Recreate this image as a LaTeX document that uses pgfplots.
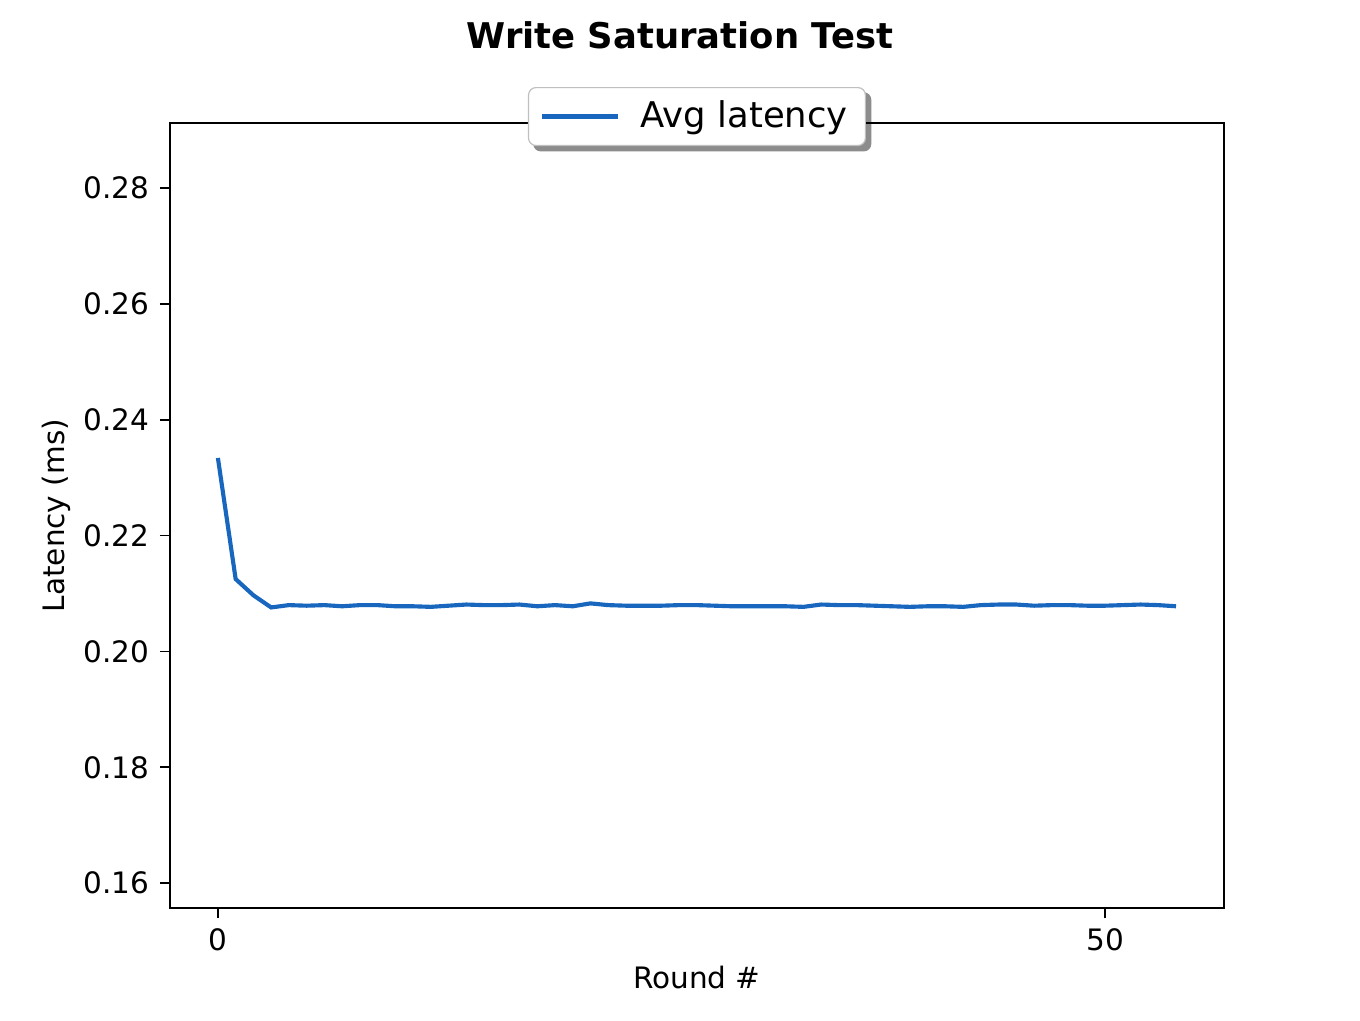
\documentclass[border=0pt]{standalone}
\usepackage{pgfplots}
\pgfplotsset{compat=1.18}
\usepackage{fontspec}
\setmainfont{DejaVu Sans}
\pgfdeclarelayer{background}
\pgfsetlayers{background,main}
\definecolor{lineblue}{RGB}{24,102,190}
\begin{document}
\begin{tikzpicture}
\begin{axis}[
  scale only axis,
  width=357.1pt, height=266pt,
  at={(0,0)}, anchor=south west,
  xmin=-2.7, xmax=56.7,
  ymin=0.1557, ymax=0.2912,
  xtick={0,50},
  ytick={0.16,0.18,0.20,0.22,0.24,0.26,0.28},
  yticklabel style={/pgf/number format/.cd,fixed,fixed zerofill,precision=2},
  /pgf/number format/assume math mode=true,
  scaled y ticks=false,
  tick align=outside,
  xtick pos=left, ytick pos=left,
  major tick length=3.4pt,
  tick style={black, line width=0.6pt},
  axis line style={line width=0.6pt},
  ticklabel style={font=\fontsize{10}{12}\selectfont},
  xlabel={Round \#},
  ylabel={Latency (ms)},
  label style={font=\fontsize{10}{12}\selectfont},
  xlabel style={yshift=1.7pt},
  ylabel style={yshift=-2.4pt},
  title={\textbf{Write Saturation Test}},
  title style={font=\fontsize{12}{14}\selectfont, at={(0.4839,1.0)}, anchor=base, yshift=19.4pt},
  legend style={name=leg, at={(0.5,1.0083)}, anchor=center, font=\fontsize{12}{14}\selectfont,
    draw=black!25, rounded corners=2.5pt, fill=white,
    inner xsep=4pt, inner ysep=2.5pt, column sep=5pt},
  legend cell align=left,
  legend image code/.code={\draw[#1] (0cm,0cm) -- (0.9cm,0cm);},
]
\addplot[lineblue, line width=1.4pt] coordinates {
(0,0.2334) (1,0.2125) (2,0.2097) (3,0.2076) (4,0.2080) (5,0.2079) (6,0.2080)
(7,0.2078) (8,0.2080) (9,0.2080) (10,0.2078) (11,0.2078) (12,0.2077)
(13,0.2079) (14,0.2081) (15,0.2080) (16,0.2080) (17,0.2081) (18,0.2078)
(19,0.2080) (20,0.2078) (21,0.2083) (22,0.2080) (23,0.2079) (24,0.2079)
(25,0.2079) (26,0.2080) (27,0.2080) (28,0.2079) (29,0.2078) (30,0.2078)
(31,0.2078) (32,0.2078) (33,0.2077) (34,0.2081) (35,0.2080) (36,0.2080)
(37,0.2079) (38,0.2078) (39,0.2077) (40,0.2078) (41,0.2078) (42,0.2077)
(43,0.2080) (44,0.2081) (45,0.2081) (46,0.2079) (47,0.2080) (48,0.2080)
(49,0.2079) (50,0.2079) (51,0.2080) (52,0.2081) (53,0.2080) (54,0.2078)
};
\addlegendentry{Avg latency}
\end{axis}
\begin{pgfonlayer}{background}
\fill[black!45, rounded corners=2.5pt] ([shift={(1.8pt,-1.8pt)}]leg.south west) rectangle ([shift={(1.8pt,-1.8pt)}]leg.north east);
\end{pgfonlayer}
\path (-57.6pt,-37.9pt) rectangle (403.2pt,307.7pt);
\end{tikzpicture}
\end{document}
